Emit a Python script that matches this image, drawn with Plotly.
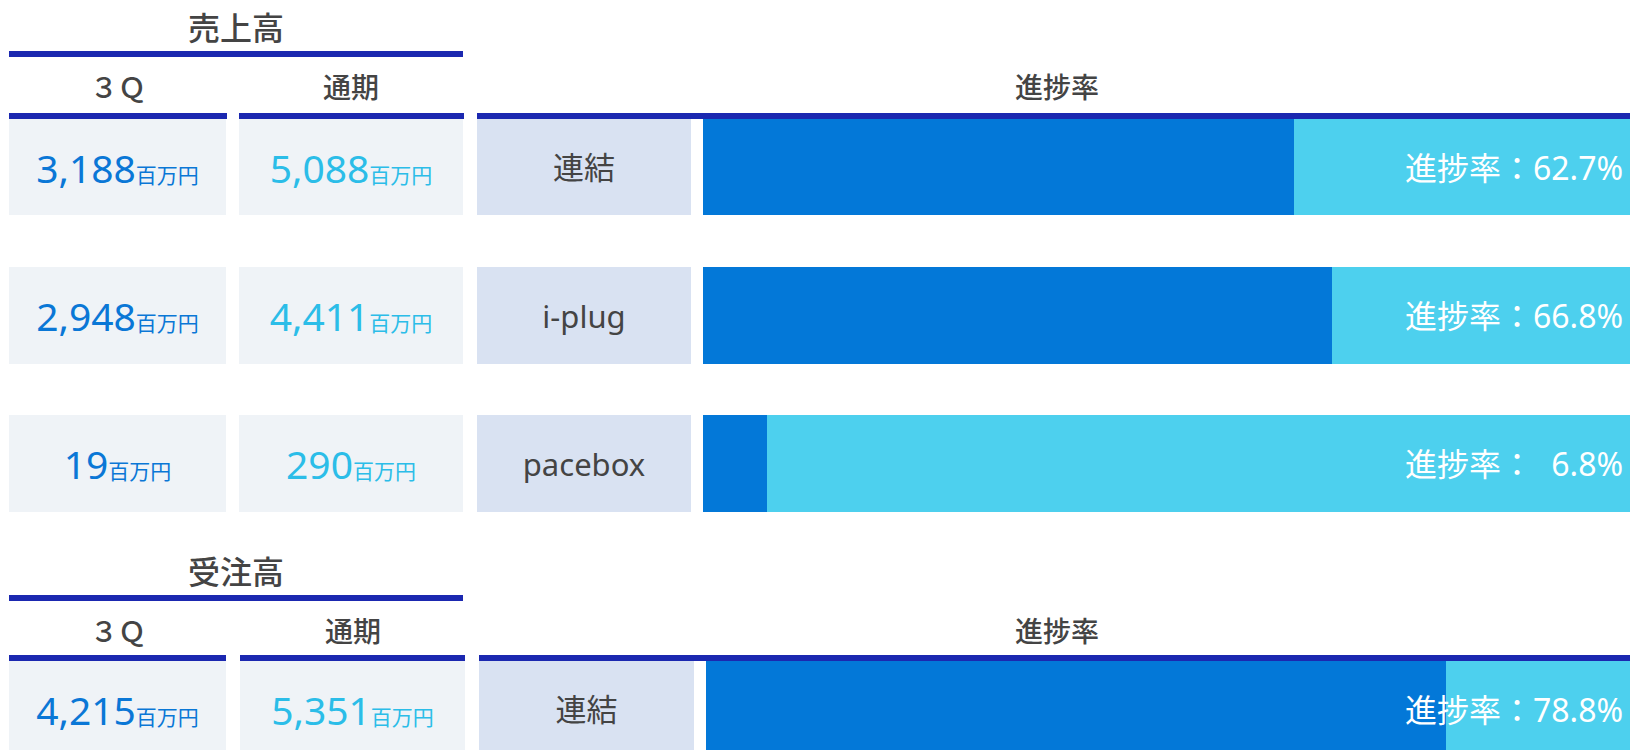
import plotly.graph_objects as go

# ---------------- data ----------------
sales_segments = ["連結", "i-plug", "pacebox"]
sales_3q = [3188, 2948, 19]          # 百万円
sales_full = [5088, 4411, 290]       # 百万円
sales_progress = [62.7, 66.8, 6.8]   # %

order_segments = ["連結"]
order_3q = [4215]
order_full = [5351]
order_progress = [78.8]

section_titles = ["売上高", "受注高"]
col_headers = ["３Ｑ", "通期", "進捗率"]
unit = "百万円"
progress_label = "進捗率："

# ---------------- style ----------------
W, H = 1630, 750
NAVY = "#1B28B0"
DARK = "#0378D8"
LIGHT = "#4DD0EE"
CELL = "#EFF3F7"
LABEL = "#D9E2F2"
GREY = "#444444"
C3Q = "#0A77D6"
CFULL = "#2BBDE8"
FONT = "Noto Sans, Noto Sans CJK JP, sans-serif"
ROW_PITCH = 148.25
ROW_H = 96.5
BAR_W = ROW_H / ROW_PITCH
AX_MAX = 98.4
WT_HEAD = 500
WT_BODY = 400


def px_x(p):
    return p / W


def px_y(p):
    return 1 - p / H


fig = go.Figure()

sections = [
    dict(cats=sales_segments, q3=sales_3q, full=sales_full, prog=sales_progress,
         title=section_titles[0], title_y=27, line_y=51, head_y=87, hline_y=113,
         first_row_top=119,
         cols=[(9, 226), (239, 463), (477, 691), (703, W)],
         hlines=[(9, 227), (239, 464), (477, W)]),
    dict(cats=order_segments, q3=order_3q, full=order_full, prog=order_progress,
         title=section_titles[1], title_y=571, line_y=595, head_y=631, hline_y=655,
         first_row_top=661,
         cols=[(9, 226), (240, 465), (479, 694), (706, W)],
         hlines=[(9, 226), (240, 465), (479, W)]),
]

layout_axes = {}
shapes = []
annotations = []
xi = 0
for si, s in enumerate(sections):
    n = len(s["cats"])
    yname = "y" if si == 0 else "y2"
    ykey = "yaxis" if si == 0 else "yaxis2"
    top_pix = s["first_row_top"] + ROW_H / 2 - ROW_PITCH / 2
    bottom_pix = top_pix + n * ROW_PITCH
    if bottom_pix > H:
        lo_val = -0.5 + (H - top_pix) / ROW_PITCH
        bottom_pix = H
    else:
        lo_val = n - 0.5
    xnames = []
    for ci, (x0, x1) in enumerate(s["cols"]):
        xi += 1
        xname = "x" if xi == 1 else f"x{xi}"
        xkey = "xaxis" if xi == 1 else f"xaxis{xi}"
        rng = [0, 1] if ci < 3 else [0, AX_MAX]
        layout_axes[xkey] = dict(domain=[px_x(x0), px_x(x1)], range=rng, visible=False,
                                 anchor=yname, fixedrange=True)
        xnames.append(xname)
    layout_axes[ykey] = dict(domain=[px_y(bottom_pix), px_y(top_pix)], range=[lo_val, -0.5],
                             visible=False, anchor=xnames[0], type="category",
                             categoryarray=s["cats"], categoryorder="array", fixedrange=True)

    # cells: 3Q, 通期
    for ci, (vals, col) in enumerate([(s["q3"], C3Q), (s["full"], CFULL)]):
        texts = [f"{v:,}<span style='font-size:21px'>{unit}</span>" for v in vals]
        fig.add_trace(go.Bar(
            x=[1] * n, y=s["cats"], orientation="h", width=BAR_W,
            marker=dict(color=CELL, line=dict(width=0)),
            text=texts, textposition="inside", insidetextanchor="middle",
            textfont=dict(size=39, color=col, family=FONT, weight=WT_BODY),
            xaxis=xnames[ci], yaxis=yname, hoverinfo="skip", showlegend=False))
    # label cell
    fig.add_trace(go.Bar(
        x=[1] * n, y=s["cats"], orientation="h", width=BAR_W,
        marker=dict(color=LABEL, line=dict(width=0)),
        text=s["cats"], textposition="inside", insidetextanchor="middle",
        textfont=dict(size=31, color=GREY, family=FONT, weight=WT_BODY),
        xaxis=xnames[2], yaxis=yname, hoverinfo="skip", showlegend=False))
    # progress bars
    fig.add_trace(go.Bar(
        x=s["prog"], y=s["cats"], orientation="h", width=BAR_W,
        marker=dict(color=DARK, line=dict(width=0)),
        xaxis=xnames[3], yaxis=yname, hoverinfo="skip", showlegend=False))
    fig.add_trace(go.Bar(
        x=[100 - v for v in s["prog"]], y=s["cats"], orientation="h", width=BAR_W,
        marker=dict(color=LIGHT, line=dict(width=0)),
        xaxis=xnames[3], yaxis=yname, hoverinfo="skip", showlegend=False))
    for cat, v in zip(s["cats"], s["prog"]):
        num = f"{v:.1f}"
        if len(num) < 4:
            num = "\u2007" + num
        annotations.append(dict(
            xref="paper", x=1, xshift=-5, xanchor="right",
            yref=yname, y=cat, yanchor="middle", showarrow=False,
            text=f"{progress_label}{num}%",
            font=dict(size=32, color="white", family=FONT, weight=WT_BODY)))

    annotations.append(dict(xref="paper", yref="paper", x=px_x(236), y=px_y(s["title_y"]),
                            xanchor="center", yanchor="middle", showarrow=False,
                            text=s["title"],
                            font=dict(size=32, color=GREY, family=FONT, weight=WT_HEAD)))
    shapes.append(dict(type="rect", xref="paper", yref="paper",
                       x0=px_x(9), x1=px_x(463), y0=px_y(s["line_y"]), y1=px_y(s["line_y"] + 6),
                       fillcolor=NAVY, line=dict(width=0), layer="above"))
    head_centers = [(s["cols"][0][0] + s["cols"][0][1]) / 2,
                    (s["cols"][1][0] + s["cols"][1][1]) / 2, 1057]
    for hx, ht in zip(head_centers, col_headers):
        annotations.append(dict(xref="paper", yref="paper", x=px_x(hx), y=px_y(s["head_y"]),
                                xanchor="center", yanchor="middle", showarrow=False,
                                text=ht,
                                font=dict(size=28, color=GREY, family=FONT, weight=WT_HEAD)))
    for x0, x1 in s["hlines"]:
        shapes.append(dict(type="rect", xref="paper", yref="paper",
                           x0=px_x(x0), x1=px_x(x1), y0=px_y(s["hline_y"]),
                           y1=px_y(s["hline_y"] + 6),
                           fillcolor=NAVY, line=dict(width=0), layer="above"))

fig.update_layout(
    width=W, height=H, margin=dict(l=0, r=0, t=0, b=0),
    paper_bgcolor="white", plot_bgcolor="rgba(0,0,0,0)",
    barmode="stack", bargap=0, showlegend=False,
    shapes=shapes, annotations=annotations,
    font=dict(family=FONT, color=GREY),
    **layout_axes,
)

fig.write_html("out.html", config={"displayModeBar": False})
